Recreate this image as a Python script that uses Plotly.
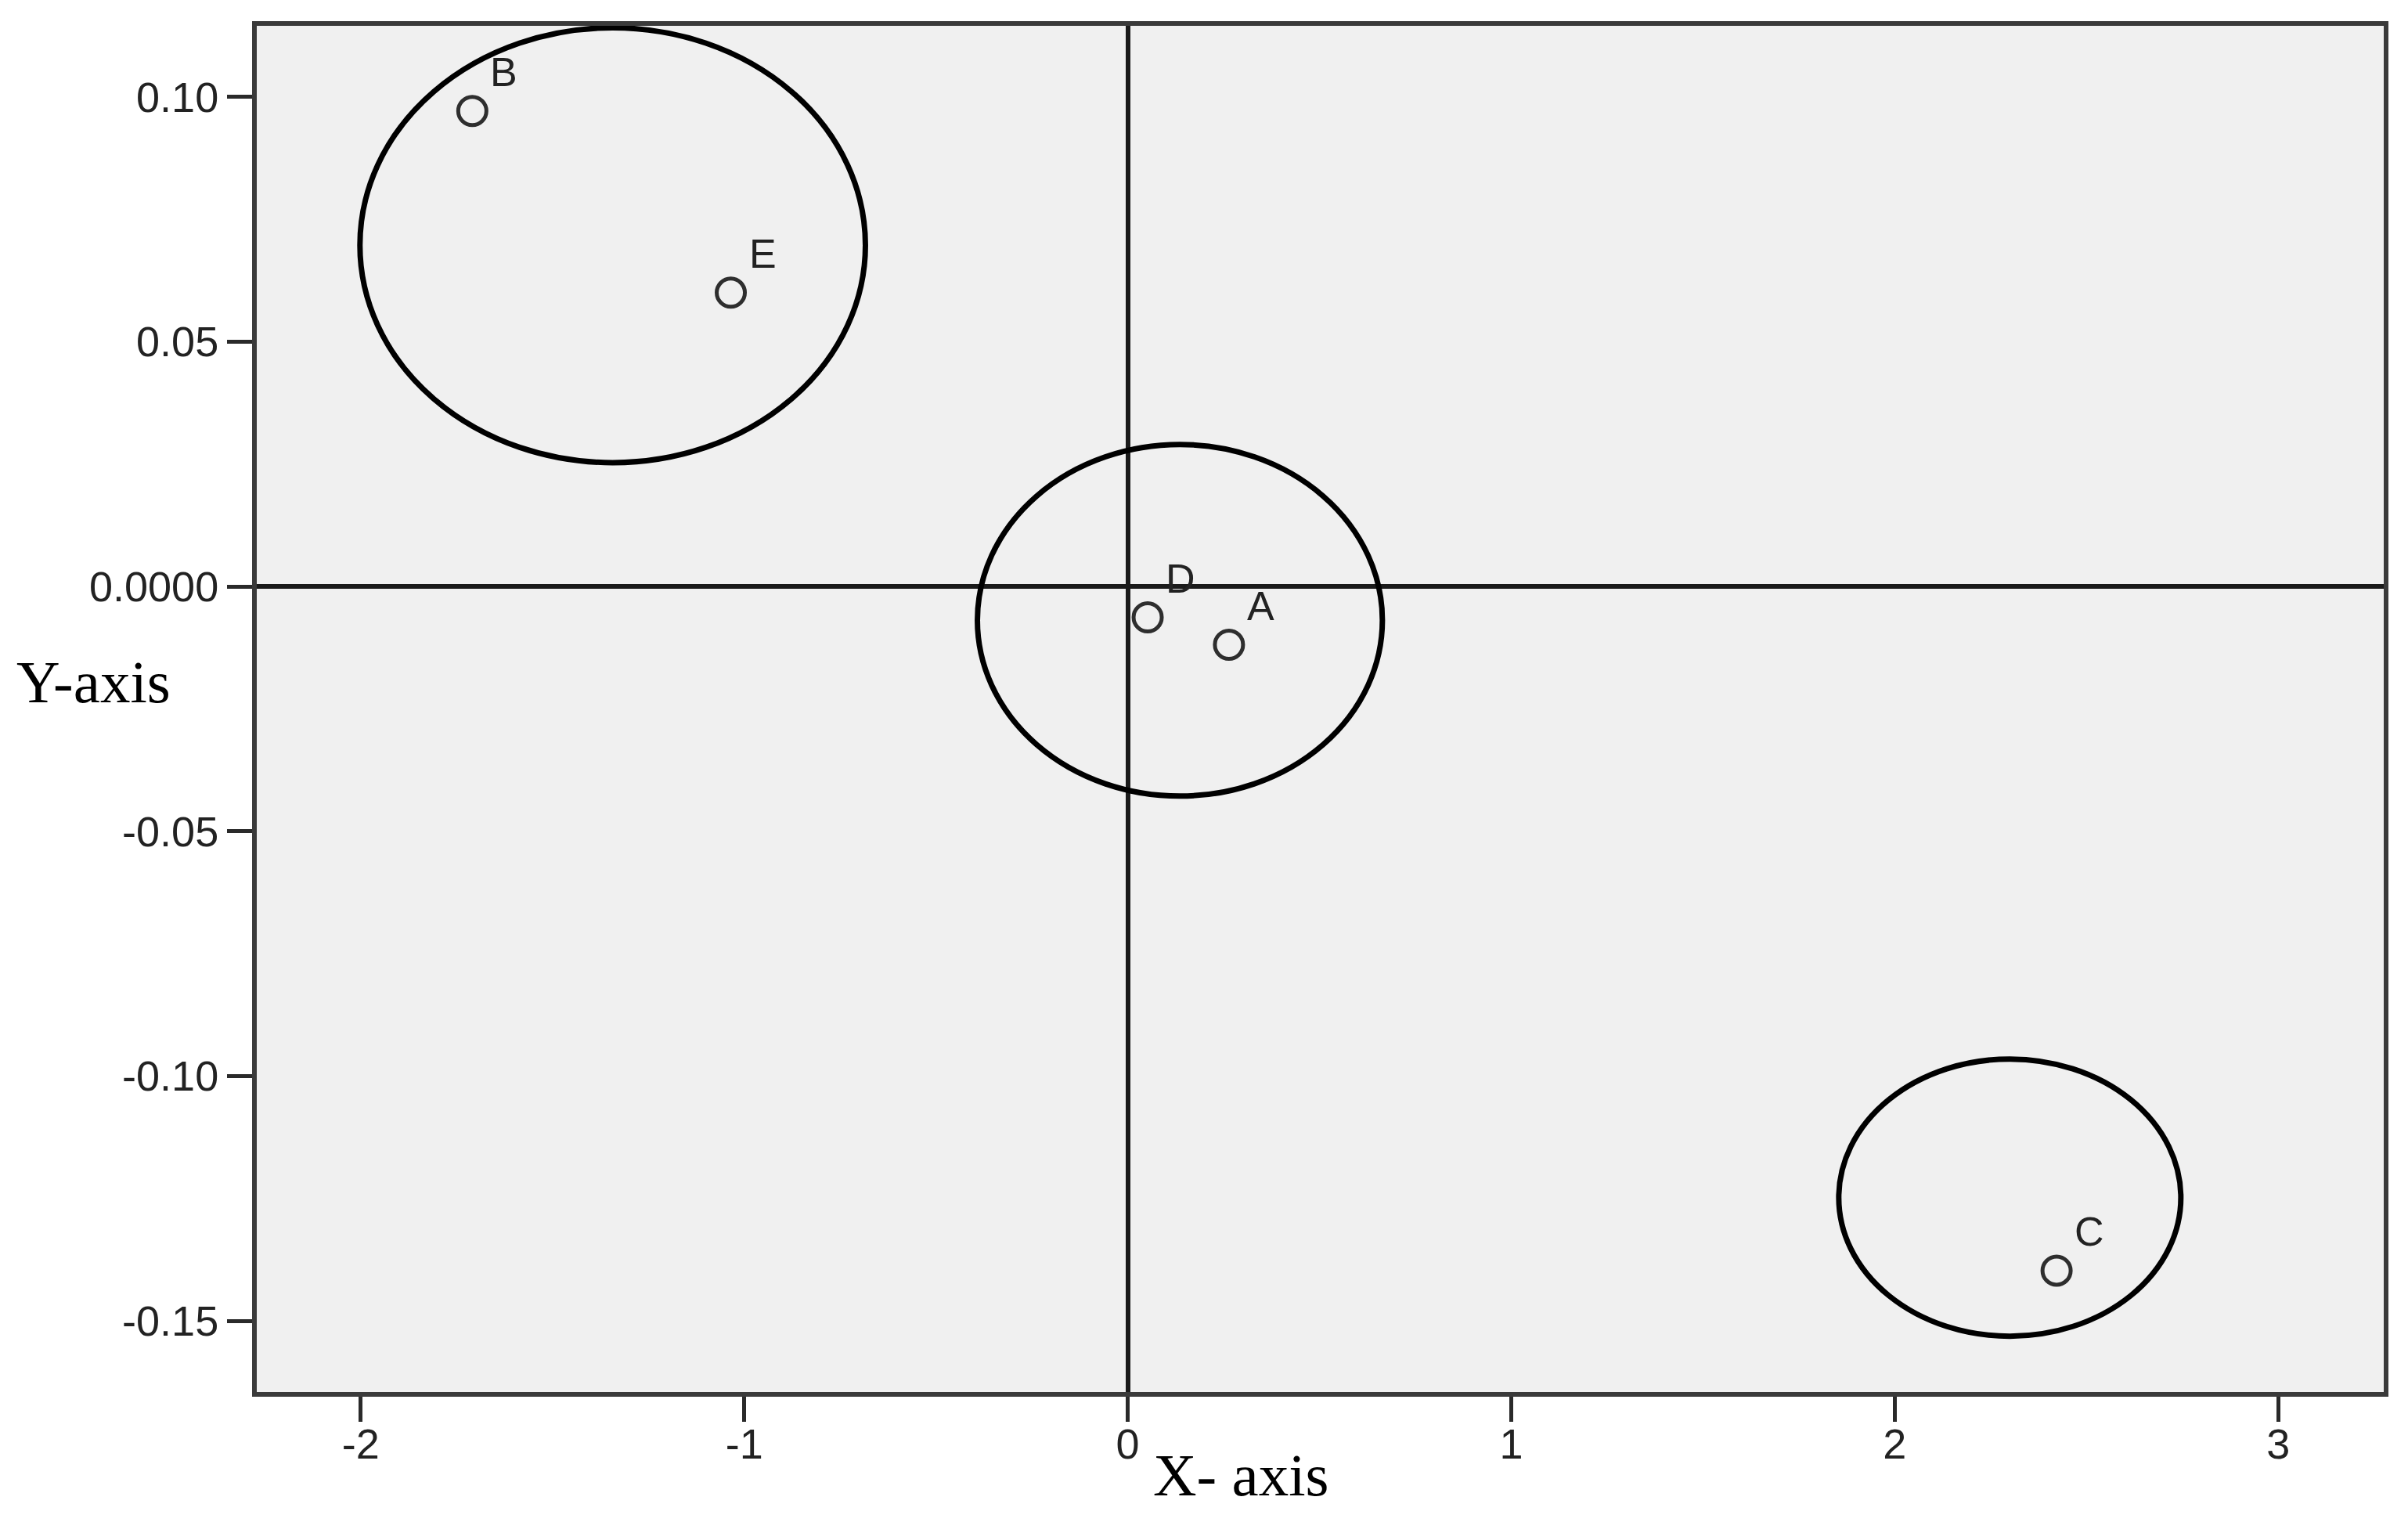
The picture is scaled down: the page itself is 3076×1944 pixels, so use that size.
import plotly.graph_objects as go

# Points (labels and coordinates)
labels = ['A', 'B', 'C', 'D', 'E']
x_vals = [0.264, -1.709, 2.422, 0.052, -1.035]
y_vals = [-0.0119, 0.0971, -0.1397, -0.0063, 0.0600]

# Cluster ellipses: centre and half-widths in data units
cluster_cx = [-1.343, 0.136, 2.300]
cluster_cy = [0.0697, -0.0069, -0.1248]
cluster_rx = [0.659, 0.528, 0.446]
cluster_ry = [0.0444, 0.0359, 0.0283]

# Axis ticks
x_ticks = [-2, -1, 0, 1, 2, 3]
x_tick_text = ['-2', '-1', '0', '1', '2', '3']
y_ticks = [0.10, 0.05, 0.0, -0.05, -0.10, -0.15]
y_tick_text = ['0.10', '0.05', '0.0000', '-0.05', '-0.10', '-0.15']

fig = go.Figure()

fig.add_trace(go.Scatter(
    x=x_vals, y=y_vals, mode='markers',
    marker=dict(symbol='circle-open', size=36, color='#2e2e2e',
                line=dict(width=5, color='#2e2e2e')),
    showlegend=False, hoverinfo='skip',
))

# point labels to the upper right of each marker
for lab, px, py in zip(labels, x_vals, y_vals):
    fig.add_annotation(
        x=px, y=py, text=lab, showarrow=False,
        xanchor='left', yanchor='bottom', xshift=21, yshift=19,
        font=dict(family='Liberation Sans', size=52, color='#222222'),
    )

# cluster ellipses
for cx, cy, rx, ry in zip(cluster_cx, cluster_cy, cluster_rx, cluster_ry):
    fig.add_shape(
        type='circle', xref='x', yref='y',
        x0=cx - rx, x1=cx + rx, y0=cy - ry, y1=cy + ry,
        line=dict(color='black', width=7),
    )

axis_common = dict(
    showgrid=False, showline=True, mirror=True,
    linecolor='#3a3a3a', linewidth=6,
    ticks='outside', ticklen=32, tickwidth=5, tickcolor='#2a2a2a',
    zeroline=True, zerolinecolor='#1a1a1a', zerolinewidth=6,
)

fig.update_xaxes(
    range=[-2.271, 3.275], tickvals=x_ticks, ticktext=x_tick_text,
    tickfont=dict(family='Liberation Sans', size=54, color='#222222'),
    ticklabelstandoff=-18,
    **axis_common,
)
fig.update_yaxes(
    range=[-0.1645, 0.1145], tickvals=y_ticks, ticktext=y_tick_text,
    tickfont=dict(family='Liberation Sans', size=54, color='#222222'),
    **axis_common,
)

# axis titles
fig.add_annotation(
    text='X- axis', xref='paper', yref='paper', x=0.463, y=-0.061,
    xanchor='center', yanchor='middle', showarrow=False,
    font=dict(family='Liberation Serif', size=77, color='black'),
)
fig.add_annotation(
    text='Y-axis', xref='paper', yref='paper', x=-0.0768, y=0.52,
    xanchor='center', yanchor='middle', showarrow=False,
    font=dict(family='Liberation Serif', size=77, color='black'),
)

fig.update_layout(
    width=3076, height=1944,
    margin=dict(l=320, r=39, t=25, b=174),
    plot_bgcolor='#f0f0f0', paper_bgcolor='white',
)

fig.write_html("out.html")
